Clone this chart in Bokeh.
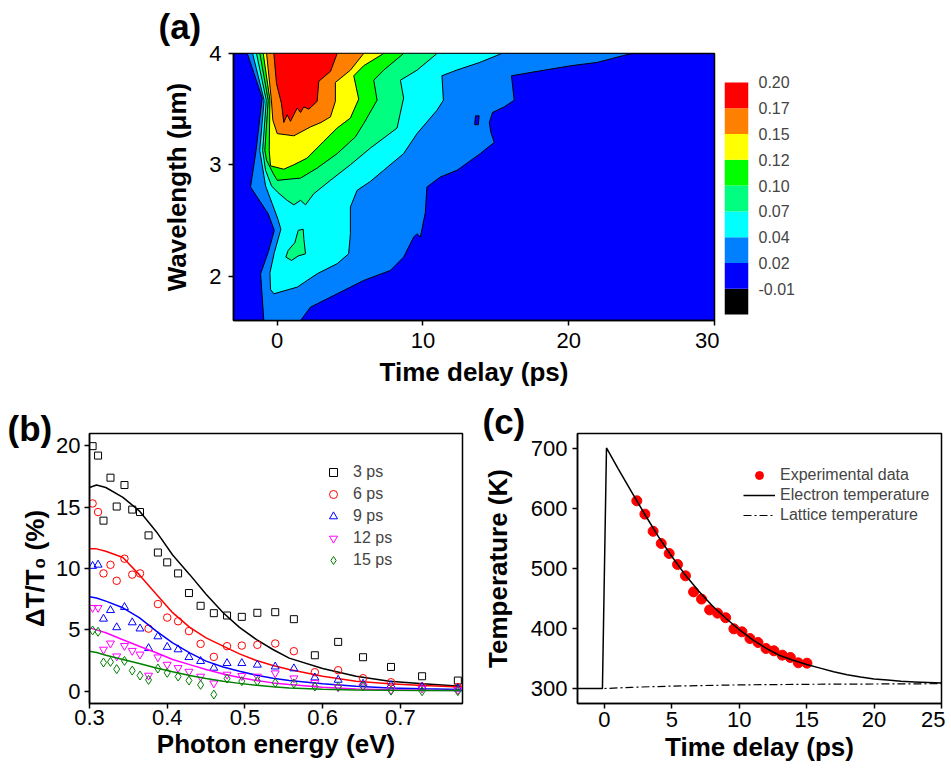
from bokeh.plotting import figure
from bokeh.layouts import column, row
from bokeh.models import Range1d, FixedTicker, Legend, LegendItem
from bokeh.embed import file_html
from bokeh.resources import INLINE

FONT = "Liberation Sans"

# ---------------- (a) contour map: boundaries of each level region
lvl002_x = [-2.05, -1.03, -1.45, -1.83, -0.62, -0.20, -0.60, -1.14, -0.92, 1.60, 2.28, 2.74, 4.11, 5.93,
            7.76, 8.67, 9.36, 9.59, 9.82, 10.16, 10.27, 11.19, 12.33, 13.93, 14.2, 14.89, 14.66, 14.55,
            14.77, 15.57, 16.26, 16.07, 17.86, 20.14, 21.95, 24.30]
lvl002_y = [4.0, 3.60, 3.13, 2.80, 2.56, 2.41, 2.22, 2.02, 1.6, 1.6, 1.72, 1.75, 1.84, 1.96,
            2.05, 2.17, 2.35, 2.38, 2.35, 2.57, 2.80, 2.89, 2.95, 3.10, 3.13, 3.2, 3.29, 3.38,
            3.47, 3.52, 3.58, 3.80, 3.84, 3.89, 3.92, 4.0]
ring_x = [13.55, 13.8, 13.85, 13.6]
ring_y = [3.36, 3.36, 3.44, 3.44]
lvl004_x = [-1.69, -0.90, -1.20, -0.80, 0.05, 0.25, -0.20, -0.50, -0.46, -0.23, 1.37, 2.74, 4.11, 4.90, 5.02,
            5.02, 5.48, 6.39, 7.30, 8.67, 9.59, 10.96, 11.40, 11.30, 12.30, 13.90, 15.4]
lvl004_y = [4.0, 3.58, 3.13, 2.81, 2.51, 2.42, 2.21, 2.03, 1.88, 1.84, 1.90, 2.02, 2.11, 2.20, 2.38,
            2.62, 2.77, 2.85, 2.95, 3.10, 3.28, 3.49, 3.58, 3.80, 3.85, 3.92, 4.0]
lvl007_x = [-1.42, -0.75, -1.00, -0.80, -0.39, 0.05, 0.68, 1.14, 1.60, 1.94, 2.51, 3.65, 5.02, 6.39,
            8.22, 8.67, 8.45, 9.59, 10.96]
lvl007_y = [4.0, 3.58, 3.13, 2.95, 2.81, 2.75, 2.68, 2.64, 2.68, 2.64, 2.74, 2.86, 3.0, 3.15,
            3.33, 3.60, 3.76, 3.85, 4.0]
isl007_x = [1.44, 1.78, 1.83, 1.94, 1.44, 0.98, 0.59, 0.75, 1.21]
isl007_y = [2.41, 2.42, 2.33, 2.20, 2.18, 2.14, 2.17, 2.23, 2.30]
lvl010_x = [-1.19, -0.62, -0.85, -0.73, -0.27, 0.0, 1.60, 2.74, 4.11, 5.36, 5.93, 6.85, 6.62, 7.30, 8.67]
lvl010_y = [4.0, 3.58, 3.13, 3.04, 2.92, 2.86, 2.88, 2.97, 3.10, 3.25, 3.37, 3.58, 3.76, 3.85, 4.0]
lvl012_x = [-0.96, -0.50, -0.55, -0.46, 0.45, 1.14, 2.05, 3.19, 4.11, 5.02, 5.59, 5.25, 5.93, 7.3]
lvl012_y = [4.0, 3.58, 3.13, 2.99, 2.96, 3.0, 3.06, 3.21, 3.33, 3.42, 3.59, 3.80, 3.89, 4.0]
lvl015_x = [-0.73, -0.40, -0.30, -0.10, 0.0, 1.14, 2.28, 3.0, 3.65, 3.99, 3.99, 5.02, 5.93]
lvl015_y = [4.0, 3.58, 3.40, 3.32, 3.28, 3.26, 3.34, 3.38, 3.43, 3.57, 3.74, 3.85, 4.0]
lvl017_x = [-0.23, -0.05, 0.29, 0.45, 0.68, 0.91, 1.37, 1.60, 1.82, 2.17, 2.74, 2.85, 3.66, 4.11]
lvl017_y = [4.0, 3.73, 3.55, 3.38, 3.45, 3.39, 3.51, 3.47, 3.52, 3.50, 3.57, 3.75, 3.84, 4.0]

cb_labels = ["-0.01", "0.02", "0.04", "0.07", "0.10", "0.12", "0.15", "0.17", "0.20"]
cb_colors = ["#000000", "#0000FF", "#0080FF", "#00FFFF", "#00FF80", "#00FF00", "#FFFF00", "#FF8000", "#FF0000"]

# ---------------- (b) spectra
energy = [0.304, 0.311, 0.318, 0.327, 0.335, 0.345, 0.355, 0.365, 0.376, 0.388, 0.400, 0.414, 0.428,
          0.443, 0.460, 0.477, 0.496, 0.516, 0.539, 0.563, 0.590, 0.620, 0.652, 0.688, 0.728, 0.774]
dt3 = [19.97, 19.2, 13.9, 17.4, 15.05, 16.8, 14.8, 14.6, 12.7, 11.3, 10.5, 9.6, 8.0,
       6.96, 6.36, 6.17, 6.06, 6.39, 6.44, 5.87, 2.93, 4.02, 2.77, 1.98, 1.22, 0.87]
dt6 = [15.3, 14.6, 9.6, 10.3, 9.0, 10.8, 9.5, 9.6, 5.1, 7.1, 6.0, 5.7, 4.9,
       3.86, 2.8, 3.67, 3.72, 3.78, 3.89, 3.26, 1.55, 1.71, 1.06, 0.73, 0.38, 0.33]
dt9 = [10.2, 10.3, 5.9, 6.6, 5.2, 6.85, 5.6, 5.1, 3.5, 4.46, 3.6, 3.4, 2.77,
       2.45, 1.9, 2.28, 2.28, 2.15, 2.0, 1.85, 1.11, 0.92, 0.6, 0.49, 0.35, 0.22]
dt12 = [6.8, 6.8, 3.4, 3.9, 2.85, 3.7, 3.3, 3.0, 1.28, 2.77, 2.17, 1.9, 1.6,
        1.2, 0.65, 1.36, 1.25, 1.2, 1.47, 1.06, 0.68, 0.33, 0.4, 0.1, 0.22, 0.1]
dt15 = [4.95, 4.84, 2.34, 2.39, 1.8, 2.47, 1.68, 1.28, 0.92, 1.85, 1.5, 1.2, 0.87,
        0.52, -0.27, 1.03, 0.82, 0.82, 0.68, 0.63, 0.38, 0.38, 0.4, 0.05, 0.0, 0.0]
fit_e = [0.300, 0.309, 0.321, 0.343, 0.364, 0.386, 0.407, 0.429, 0.450, 0.472, 0.493, 0.515, 0.536,
         0.557, 0.600, 0.643, 0.686, 0.729, 0.778]
fit3 = [16.6, 16.8, 16.6, 15.8, 14.7, 13.0, 11.1, 9.5, 7.9, 6.4, 5.2, 4.2, 3.4, 2.7, 1.85, 1.22, 0.82, 0.6, 0.41]
fit6 = [11.6, 11.6, 11.4, 10.9, 9.5, 7.9, 6.4, 5.2, 4.35, 3.67, 3.04, 2.5, 2.1, 1.77, 1.22, 0.82, 0.6, 0.46, 0.35]
fit9 = [7.7, 7.6, 7.34, 6.8, 6.0, 4.9, 3.94, 3.13, 2.45, 1.98, 1.62, 1.3, 1.05, 0.87, 0.6, 0.4, 0.27, 0.2, 0.14]
fit12 = [5.16, 5.0, 4.76, 4.2, 3.67, 3.13, 2.58, 2.17, 1.77, 1.41, 1.12, 0.87, 0.68, 0.54, 0.33, 0.19, 0.12, 0.08, 0.05]
fit15 = [3.26, 3.15, 2.93, 2.58, 2.26, 1.9, 1.58, 1.28, 1.03, 0.82, 0.64, 0.49, 0.37, 0.27, 0.16, 0.11, 0.08, 0.06, 0.05]
series_b = [("3 ps", dt3, fit3, "black", "square", 7),
            ("6 ps", dt6, fit6, "#FF0000", "circle", 7.5),
            ("9 ps", dt9, fit9, "#0000FF", "triangle", 8),
            ("12 ps", dt12, fit12, "#FF00FF", "inverted_triangle", 8),
            ("15 ps", dt15, fit15, "#008000", "diamond", 9)]

# ---------------- (c) temperatures
t_exp = [2.40, 3.00, 3.61, 4.21, 4.80, 5.42, 6.01, 6.61, 7.20, 7.80, 8.39, 8.99, 9.60, 10.20, 10.79,
         11.39, 11.98, 12.57, 13.19, 13.79, 14.38, 15.02]
T_exp = [612.8, 590.6, 562, 541.7, 525, 506.7, 487.8, 461, 449, 431, 425.6, 418, 399.4, 394.4, 383.3,
         376.7, 366.7, 362.8, 355.6, 351.7, 342.8, 342.2]
t_el = [-2, -0.15, 0.15, 1, 2, 3, 4, 5, 6, 7, 8, 9, 10, 11, 12, 13, 14, 15, 16, 17, 18, 19, 20, 21, 22, 23, 24, 25]
T_el = [300, 300, 701, 667, 628, 590, 553, 520, 489, 462, 438, 417, 398, 381, 367, 355, 347, 340, 334, 328,
        323, 319, 316, 314, 312, 311, 310, 309]
t_lat = [-2, 0, 2, 5, 10, 15, 20, 25]
T_lat = [300, 300, 302, 304, 306, 307, 307.5, 308]


def style(p, tick_fs="22px", lab_fs="26px"):
    for ax in p.axis:
        ax.axis_line_color = "black"
        ax.axis_line_width = 1.5
        ax.major_tick_line_color = "black"
        ax.major_tick_line_width = 1.5
        ax.major_tick_out = 5
        ax.major_tick_in = 0
        ax.minor_tick_line_color = None
        ax.major_label_text_font = FONT
        ax.major_label_text_font_size = tick_fs
        ax.major_label_text_color = "black"
        ax.axis_label_text_font = FONT
        ax.axis_label_text_font_size = lab_fs
        ax.axis_label_text_font_style = "bold"
        ax.axis_label_text_color = "black"
    p.xgrid.grid_line_color = None
    p.ygrid.grid_line_color = None
    p.outline_line_color = "black"
    p.outline_line_width = 1.5
    p.outline_line_alpha = 1


def panel_title(p, text, offset, standoff, valign):
    p.title.text = text
    p.title.align = "left"
    p.title.vertical_align = valign
    p.title.offset = offset
    p.title.standoff = standoff
    p.title.text_font = FONT
    p.title.text_font_size = "35px"
    p.title.text_font_style = "bold"
    p.title.text_color = "black"


# ---- (a)
pa = figure(width=719, height=393, x_range=Range1d(-3, 30), y_range=Range1d(1.6, 4.0),
            min_border_left=233, min_border_right=5, min_border_top=53, min_border_bottom=73,
            output_backend="svg", toolbar_location=None)
pa.background_fill_color = "#0000FF"
pa.patches(xs=[lvl002_x, ring_x, lvl004_x, isl007_x, lvl007_x, lvl010_x, lvl012_x, lvl015_x, lvl017_x],
           ys=[lvl002_y, ring_y, lvl004_y, isl007_y, lvl007_y, lvl010_y, lvl012_y, lvl015_y, lvl017_y],
           fill_color=[cb_colors[2], cb_colors[1], cb_colors[3], cb_colors[4], cb_colors[4], cb_colors[5],
                       cb_colors[6], cb_colors[7], cb_colors[8]],
           line_color="black", line_width=1)
pa.xaxis.ticker = FixedTicker(ticks=[0, 10, 20, 30])
pa.yaxis.ticker = FixedTicker(ticks=[2, 3, 4])
pa.xaxis.axis_label = "Time delay (ps)"
pa.yaxis.axis_label = "Wavelength (μm)"
style(pa)
pa.xaxis.major_label_standoff = 7
pa.xaxis.axis_label_standoff = 6
pa.yaxis.major_label_standoff = 7
pa.yaxis.axis_label_standoff = 14
panel_title(pa, "(a)", -75, 11, "top")

# ---- colour bar (same borders as (a) so that the row aligns)
cb = figure(width=224, height=393, x_range=Range1d(0, 1), y_range=Range1d(-0.233, 10.125),
            x_axis_type=None, y_axis_location="right",
            min_border_left=5, min_border_right=195, min_border_top=53, min_border_bottom=73,
            output_backend="svg", toolbar_location=None)
cb.quad(left=0, right=1, bottom=list(range(0, 9)), top=list(range(1, 10)), fill_color=cb_colors, line_color=None)
cb.yaxis.ticker = FixedTicker(ticks=list(range(1, 10)))
cb.yaxis.major_label_overrides = {i + 1: lab for i, lab in enumerate(cb_labels)}
cb.yaxis.axis_line_color = None
cb.yaxis.major_tick_line_color = None
cb.yaxis.minor_tick_line_color = None
cb.yaxis.major_label_text_font = FONT
cb.yaxis.major_label_text_font_size = "16px"
cb.yaxis.major_label_standoff = 4
cb.grid.grid_line_color = None
cb.outline_line_color = None
cb.background_fill_color = None

# ---- (b)
pb = figure(width=475, height=375, x_range=Range1d(0.3, 0.78), y_range=Range1d(-1, 21),
            min_border_left=89, min_border_right=13, min_border_top=40, min_border_bottom=65,
            output_backend="svg", toolbar_location=None)
items_b = []
for name, pts, fit, col, mk, sz in series_b:
    pb.line(fit_e, fit, line_color=col, line_width=1.5)
    r = pb.scatter(energy, pts, marker=mk, size=sz, fill_color=None, line_color=col, line_width=1)
    items_b.append(LegendItem(label=name, renderers=[r]))
pb.xaxis.ticker = FixedTicker(ticks=[0.3, 0.4, 0.5, 0.6, 0.7])
pb.yaxis.ticker = FixedTicker(ticks=[0, 5, 10, 15, 20])
pb.xaxis.axis_label = "Photon energy (eV)"
pb.yaxis.axis_label = "ΔT/T₀ (%)"
style(pb)
pb.xaxis.major_label_standoff = 1
pb.xaxis.axis_label_standoff = 1
pb.yaxis.major_label_standoff = 4
pb.yaxis.axis_label_standoff = 3
leg_b = Legend(items=items_b, location=(234, 132), border_line_color=None, background_fill_alpha=0,
               label_text_font=FONT, label_text_font_size="16px", glyph_width=20, glyph_height=22,
               label_height=22, spacing=0, padding=0, margin=0, label_standoff=10)
pb.add_layout(leg_b)
panel_title(pb, "(b)", -82, -28, "bottom")

# ---- (c)
pc = figure(width=470, height=375, x_range=Range1d(-2, 25), y_range=Range1d(275, 725),
            min_border_left=102, min_border_right=4, min_border_top=40, min_border_bottom=65,
            output_backend="svg", toolbar_location=None)
r_exp = pc.scatter(t_exp, T_exp, marker="circle", size=10, fill_color="#FF0000", line_color="#FF0000")
r_el = pc.line(t_el, T_el, line_color="black", line_width=1.5)
r_lat = pc.line(t_lat, T_lat, line_color="black", line_width=1.2, line_dash="8 3 2 3")
pc.xaxis.ticker = FixedTicker(ticks=[0, 5, 10, 15, 20, 25])
pc.yaxis.ticker = FixedTicker(ticks=[300, 400, 500, 600, 700])
pc.xaxis.axis_label = "Time delay (ps)"
pc.yaxis.axis_label = "Temperature (K)"
style(pc)
pc.xaxis.major_label_standoff = 3
pc.xaxis.axis_label_standoff = 2
pc.yaxis.major_label_standoff = 5
pc.yaxis.axis_label_standoff = 15
leg_c = Legend(items=[LegendItem(label="Experimental data", renderers=[r_exp]),
                      LegendItem(label="Electron temperature", renderers=[r_el]),
                      LegendItem(label="Lattice temperature", renderers=[r_lat])],
               location=(166, 178), border_line_color=None, background_fill_alpha=0,
               label_text_font=FONT, label_text_font_size="16px", glyph_width=32, glyph_height=20,
               label_height=20, spacing=0, padding=0, margin=0, label_standoff=5)
pc.add_layout(leg_c)
panel_title(pc, "(c)", -95, -14, "bottom")

layout = column(row(pa, cb), row(pb, pc))
open("out.html", "w").write(file_html(layout, INLINE))
